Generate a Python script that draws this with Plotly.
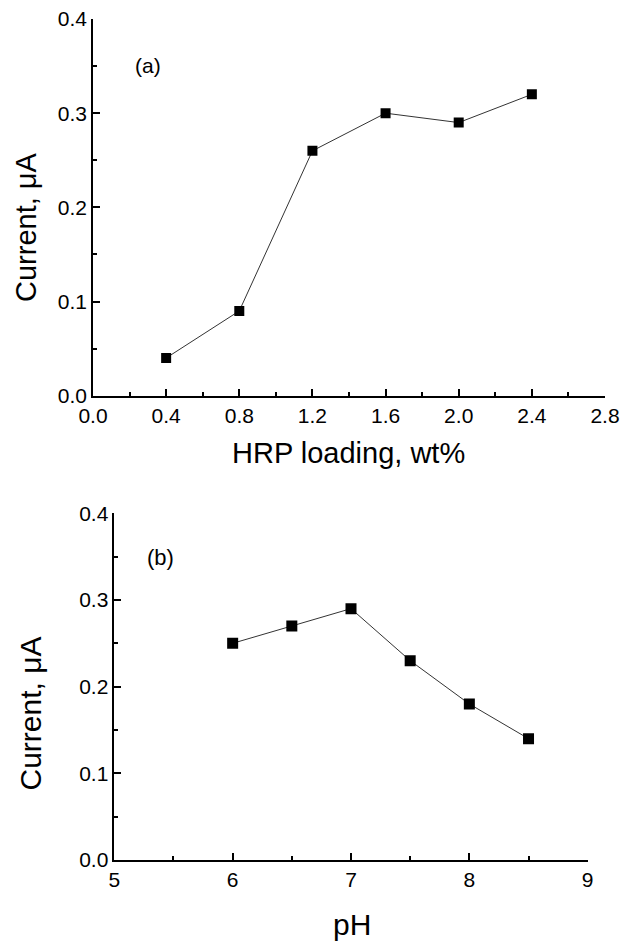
import plotly.graph_objects as go

# Panel (a): HRP loading
hrp_loading = [0.4, 0.8, 1.2, 1.6, 2.0, 2.4]
current_a = [0.04, 0.09, 0.26, 0.30, 0.29, 0.32]

# Panel (b): pH
ph_values = [6.0, 6.5, 7.0, 7.5, 8.0, 8.5]
current_b = [0.25, 0.27, 0.29, 0.23, 0.18, 0.14]

OFF = 8  # default page body margin
W, H = 632 - OFF, 942 - OFF
FONT = "Arial, Liberation Sans, sans-serif"

def px(x):
    return (x - OFF) / W

def py(y):
    return 1 - (y - OFF) / H

fig = go.Figure()
fig.add_trace(go.Scatter(x=hrp_loading, y=current_a, mode="lines+markers",
                         line=dict(color="#333333", width=1),
                         marker=dict(symbol="square", size=10, color="black"),
                         xaxis="x", yaxis="y", showlegend=False))
fig.add_trace(go.Scatter(x=ph_values, y=current_b, mode="lines+markers",
                         line=dict(color="#333333", width=1),
                         marker=dict(symbol="square", size=11, color="black"),
                         xaxis="x2", yaxis="y2", showlegend=False))

axis_common = dict(showline=True, linecolor="black", linewidth=1.5, ticks="inside",
                   ticklen=7, tickwidth=1.5, tickcolor="black", showgrid=False,
                   zeroline=False, automargin=False, ticklabeloverflow="allow",
                   tickfont=dict(family=FONT, size=21, color="black"))

fig.update_layout(
    width=W, height=H,
    margin=dict(l=0, r=0, t=0, b=0),
    plot_bgcolor="white", paper_bgcolor="white",
    xaxis=dict(domain=[px(93), px(605)], range=[0, 2.8], dtick=0.4, tick0=0,
               tickformat=".1f", anchor="y",
               minor=dict(ticks="inside", ticklen=4, tickwidth=1.5, dtick=0.2, tickcolor="black"),
               **axis_common),
    yaxis=dict(domain=[py(395.7), py(19)], range=[0, 0.4], dtick=0.1, tick0=0,
               tickformat=".1f", anchor="x",
               minor=dict(ticks="inside", ticklen=4, tickwidth=1.5, dtick=0.05, tickcolor="black"),
               **axis_common),
    xaxis2=dict(domain=[px(114.3), px(587.7)], range=[5, 9], dtick=1, tick0=5,
                anchor="y2",
                minor=dict(ticks="inside", ticklen=4, tickwidth=1.5, dtick=0.5, tickcolor="black"),
                **axis_common),
    yaxis2=dict(domain=[py(860), py(513.3)], range=[0, 0.4], dtick=0.1, tick0=0,
                tickformat=".1f", anchor="x2",
                minor=dict(ticks="inside", ticklen=4, tickwidth=1.5, dtick=0.05, tickcolor="black"),
                **axis_common),
)

ann = [
    dict(text="HRP loading, wt%", x=px(349), y=py(453), size=29, angle=0),
    dict(text="Current, \u03bcA", x=px(26), y=py(227), size=29, angle=-90),
    dict(text="(a)", x=px(148), y=py(65), size=21, angle=0),
    dict(text="pH", x=px(352), y=py(924), size=30, angle=0),
    dict(text="Current, \u03bcA", x=px(29.5), y=py(714), size=30, angle=-90),
    dict(text="(b)", x=px(160), y=py(557), size=22, angle=0),
]
for a in ann:
    fig.add_annotation(text=a["text"], x=a["x"], y=a["y"], xref="paper", yref="paper",
                       xanchor="center", yanchor="middle", showarrow=False,
                       textangle=a["angle"],
                       font=dict(family=FONT, size=a["size"], color="black"))

fig.write_html("out.html")
